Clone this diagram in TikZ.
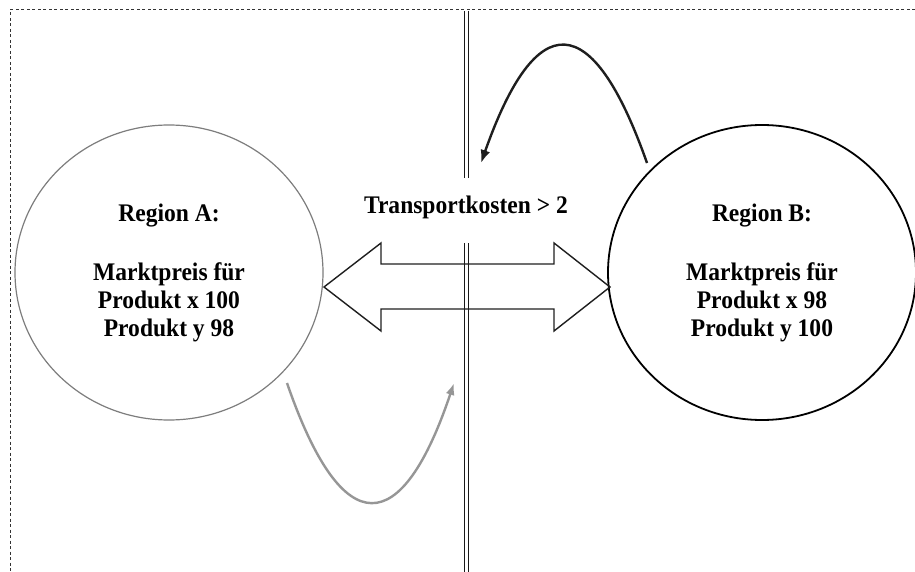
\documentclass[tikz,border=0pt]{standalone}
\usepackage{fontspec}
\setmainfont{Liberation Serif}[FakeStretch=0.93]
\usetikzlibrary{arrows.meta,shapes.geometric}
\definecolor{agray}{RGB}{125,125,125}
\definecolor{cgray}{RGB}{150,150,150}
\definecolor{dark}{RGB}{30,30,30}
\begin{document}
\begin{tikzpicture}[x=1pt,y=-1pt,
  txt/.style={font=\fontsize{25.3}{28}\selectfont\bfseries, align=center, inner sep=0pt},
  region/.style={ellipse, minimum width=308pt, minimum height=295pt, inner sep=0pt, align=center,
    font=\fontsize{25.3}{28}\selectfont\bfseries},
  border/.style={draw=black!80, line width=1pt, dash pattern=on 3pt off 2.5pt},
  dline/.style={draw=black!90, line width=1.2pt, double=white, double distance=2.6pt},
  curve/.style={line width=2.4pt, -{Latex[length=13pt,width=10pt]}},
  darrow/.style={draw=dark, line width=1.4pt, line join=miter}]
\useasboundingbox (0,0) rectangle (915,572);
% frame
\coordinate (fr1) at (915,10);
\coordinate (fr2) at (10,10);
\coordinate (fr3) at (10,572);
\draw[border] (fr1) -- (fr2) -- (fr3);
% divider
\coordinate (d1) at (466.5,11);
\coordinate (d2) at (466.5,178);
\coordinate (d3) at (466.5,243);
\coordinate (d4) at (466.5,572);
\draw[dline] (d1) -- (d2);
\draw[dline] (d3) -- (d4);
% regions
\node[region, draw=agray, line width=1.2pt] (A) at (169,272.5)
  {Region A:\\[31pt]Marktpreis für\\Produkt x 100\\Produkt y 98};
\node[region, draw=black, line width=1.8pt] (B) at (762,272.5)
  {Region B:\\[31pt]Marktpreis für\\Produkt x 98\\Produkt y 100};
\node[txt] (T) at (466,207) {Transportkosten > 2};
% double arrow
\coordinate (L) at (324,287);
\coordinate (R) at (610,287);
\draw[darrow] (L) -- (381,243) -- (381,264) -- (554,264) -- (554,243) -- (R)
  -- (554,331) -- (554,309) -- (381,309) -- (381,331) -- cycle;
% curved arrows
\coordinate (g1) at (287,383);
\coordinate (g2) at (454,383);
\draw[curve, draw=cgray, -{Latex[length=12pt,width=9pt,fill=cgray]}] (g1) .. controls (343,545) and (402,538) .. (g2);
\coordinate (b1) at (647,163);
\coordinate (b2) at (481,163);
\draw[curve, draw=dark] (b1) .. controls (592,7) and (536,7) .. (b2);
\end{tikzpicture}
\end{document}
